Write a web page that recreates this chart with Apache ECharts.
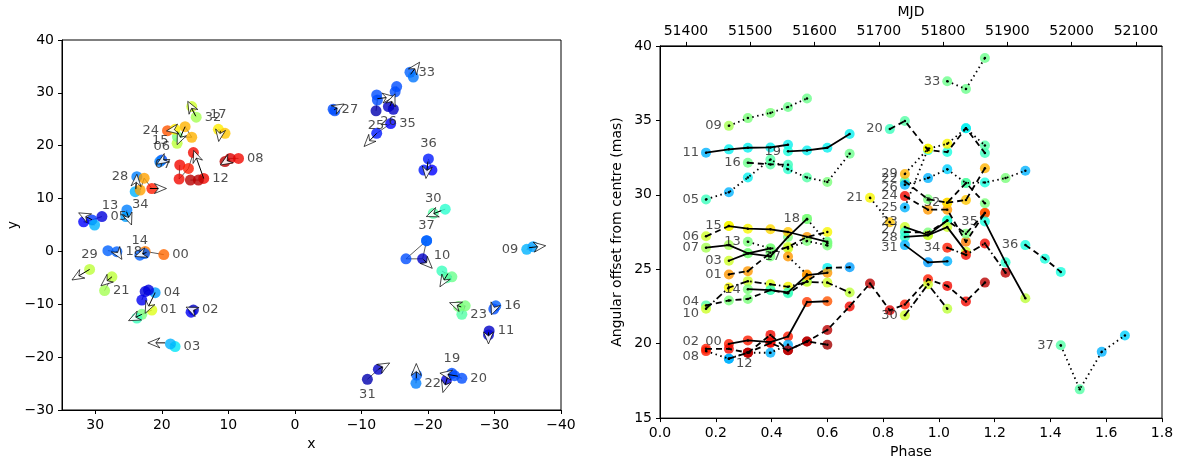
<!DOCTYPE html>
<html>
<head>
<meta charset="utf-8">
<script src="https://cdn.jsdelivr.net/npm/echarts@6/dist/echarts.min.js"></script>
<style>
  html, body { margin: 0; padding: 0; background: #fff; }
  #chart { width: 1187px; height: 464px; }
</style>
</head>
<body>
<div id="chart"></div>
<script>
// ---------- left panel: component positions [x, y, colour value 0..1] ----------
const compNames = ['00','01','02','03','04','05','06','07','08','09','10','11','12','13','14','15','16','17','18',
  '19','20','21','22','23','24','25','26','27','28','29','30','31','32','33','34','35','36','37'];
const compPoints = [
  [[19.7,-0.6,.8],[22.5,0,.78]],
  [[21.5,-11.1,.62],[23.0,-11.9,.5],[23.75,-12.6,.42]],
  [[15.25,-11.1,.06],[15.6,-11.5,.1]],
  [[18.0,-18.0,.35],[18.7,-17.5,.3]],
  [[21.0,-7.8,.28],[22.0,-7.3,.08],[22.5,-7.6,.08],[23.0,-9.2,.1]],
  [[29.0,6.6,.08],[30.5,5.95,.18],[31.75,5.6,.12],[30.1,5.0,.3]],
  [[20.0,17.3,.2],[20.3,17.0,.25]],
  [[17.3,16.35,.9],[17.4,13.7,.9],[16.0,15.7,.88],[15.25,18.7,.9]],
  [[8.47,17.6,.9],[9.72,17.6,.92],[10.5,17.0,.95]],
  [[-34.85,0.4,.3],[-35.8,0.9,.28]],
  [[-22.1,-3.7,.42],[-23.6,-4.8,.48],[-22.8,-5.0,.45]],
  [[-29.2,-15.05,.06],[-29.1,-15.8,.08]],
  [[13.7,13.8,.9],[14.5,13.5,.95],[15.7,13.5,.95]],
  [[25.25,7.85,.25],[25.4,6.6,.28]],
  [[23.3,-0.7,.22],[22.6,-0.4,.22]],
  [[17.7,20.45,.58],[17.65,21.7,.5],[15.5,21.6,.72],[16.5,23.6,.72]],
  [[-30.2,-10.3,.22],[-29.9,-10.9,.2]],
  [[11.5,23.1,.66],[10.5,22.35,.7]],
  [[26.75,-0.05,.22],[28.1,0.15,.22]],
  [[-23.6,-23.05,.2],[-22.8,-24.3,.08]],
  [[-25.1,-24.0,.2],[-24.0,-23.5,.2]],
  [[28.6,-7.4,.55],[27.5,-4.8,.58]],
  [[-18.2,-24.95,.25],[-18.3,-23.4,.22]],
  [[-25.1,-11.9,.45],[-25.6,-10.3,.5],[-24.6,-10.4,.5]],
  [[19.14,22.85,.82],[18.0,23.1,.66]],
  [[-12.2,26.6,.04],[-12.4,28.65,.2],[-12.3,29.6,.2]],
  [[-14.06,27.4,.06],[-14.8,26.9,.06],[-15.07,30.2,.2],[-15.3,31.2,.2]],
  [[-5.75,26.9,.2],[-6.0,26.6,.2]],
  [[23.75,14.15,.25],[24.0,11.3,.3]],
  [[30.85,-3.4,.58]],
  [[-20.8,7.2,.45],[-22.6,8.0,.4]],
  [[-10.9,-24.2,.04],[-12.55,-22.3,.06]],
  [[14.83,25.4,.55],[15.5,27.4,.6]],
  [[-17.3,33.9,.22],[-17.8,33.0,.24]],
  [[23.25,11.6,.74],[22.65,13.85,.74],[21.5,11.9,.88]],
  [[-14.4,24.2,.12],[-12.3,22.35,.15]],
  [[-20.07,17.5,.15],[-20.6,15.4,.12],[-19.4,15.4,.15]],
  [[-19.8,2.03,.22],[-16.7,-1.4,.2],[-19.2,-1.4,.06],[-19.8,2.03,.22]]
];
// arrow per component: [x0, y0, dx, dy]
const compArrows = [
  null, [23.0,-11.9,2.0,-1.2], [15.0,-11.3,1.35,0.76], [19.5,-17.3,2.6,0], [21.0,-7.8,1.5,-3.9],
  [30.5,6.0,2.0,1.3], [20.0,17.1,0.75,-0.6], null, [10.0,17.3,1.2,-0.95], [-35.2,0.7,-2.5,0.38],
  [-23.0,-4.2,1.2,-2.5], [-29.1,-15.3,0,-2.2], [13.7,13.8,1.5,5.3], [25.3,7.5,-0.75,-2.5], [22.3,-0.2,1.74,-0.76],
  [16.5,23.6,1.2,-3.4], [-30.0,-10.5,0.45,-1.5], [11.2,22.8,0.25,-2.0], [26.75,0,-0.75,-1.5], [-23.0,-23.5,0.75,-3.2],
  [-24.5,-23.6,2.7,0.57], [27.5,-4.8,1.65,-1.7], [-18.25,-24.0,0,2.8], [-25.0,-10.5,1.75,0.8], [18.3,23.0,1.0,-0.2],
  [-12.4,28.9,-2.55,0.38], [-14.3,27.5,-0.75,2.3], [-5.9,26.8,-1.5,1.1], [23.9,11.8,-0.15,2.8], [30.85,-3.4,2.65,-2.0],
  [-22.0,7.7,2.25,-1.1], [-12.55,-22.3,-1.7,1.2], [14.9,25.6,1.2,2.8], [-17.4,33.5,-1.35,2.3], [21.8,11.9,-2.5,0],
  [-12.3,22.35,1.9,-2.5], [-20.0,17.0,0.3,-3.2], [-19.3,-1.5,-1.35,-1.7]
];

// ---------- right panel: tracks [phase, offset (mas), colour value 0..1] ----------
const trackNames = ['00','01','02','03','04','05','06','07','08','09','10','11','12','13','14','15','16','17','18',
  '19','20','21','22','23','24','25','26','27','28','29','30','31','32','33','34','35','36','37'];
const trackStyles = ['solid','dashed','dashed','solid','dashed','dotted','dashed','solid','dotted','dotted','dashdot',
  'solid','dashed','dotted','solid','solid','dashed','dotted','dotted','solid','dashed','dotted','dashed','solid',
  'dashed','dotted','dotted','dashed','solid','dotted','dashdot','solid','dashed','dotted','dashdot','solid','dashed','dotted'];
const trackPoints = [
  [[.247,19.98,.88],[.315,20.22,.88],[.396,20.1,.9],[.459,20.48,.88],[.527,22.79,.85],[.60,22.85,.82]],
  [[.247,24.65,.75],[.315,24.87,.75],[.396,26.1,.5],[.459,26.5,.6],[.527,27.17,.75],[.60,27.5,.65]],
  [[.165,19.65,.88],[.247,19.65,.9],[.315,19.39,.95],[.396,20.04,.9],[.459,19.56,.95],[.527,20.15,.95],[.60,19.93,.97]],
  [[.247,25.57,.6],[.315,26.07,.5],[.396,25.86,.5],[.459,27.17,.5],[.527,28.38,.5]],
  [[.165,22.57,.45],[.247,22.9,.5],[.315,23.0,.5],[.396,23.6,.45],[.459,23.38,.42],[.527,24.2,.36],[.60,25.09,.36],[.68,25.13,.28]],
  [[.165,29.69,.42],[.247,30.17,.3],[.315,31.16,.36],[.396,32.37,.45],[.459,31.71,.4],[.527,31.16,.45],[.60,30.86,.5],[.68,32.76,.48]],
  [[.165,27.21,.6],[.247,27.9,.65]],
  [[.165,26.45,.55],[.247,26.62,.55],[.315,26.07,.5],[.396,26.4,.5]],
  [[.165,19.5,.88],[.247,18.99,.3],[.315,19.39,.95],[.396,19.39,.3],[.459,19.93,.3]],
  [[.247,34.63,.55],[.315,35.15,.5],[.396,35.5,.5],[.459,35.9,.48],[.527,36.47,.48]],
  [[.165,22.35,.6],[.247,23.77,.65],[.315,24.2,.6],[.396,23.99,.62],[.459,23.82,.65],[.527,24.15,.62],[.60,24.1,.6],[.68,23.44,.58]],
  [[.165,32.83,.3],[.247,33.05,.36],[.315,33.16,.36],[.396,33.18,.36],[.459,33.36,.36]],
  [[.247,18.99,.3],[.315,19.39,.95],[.396,20.59,.9],[.459,19.56,.95],[.527,20.15,.95],[.60,20.92,.95],[.68,22.5,.9],
   [.753,24.04,.95],[.824,22.24,.92],[.878,22.63,.88],[.961,24.32,.88],[1.03,23.88,.9],[1.097,22.83,.9],[1.165,24.1,.95]],
  [[.315,26.84,.5],[.396,26.4,.5],[.459,26.4,.6],[.527,26.89,.5],[.60,26.6,.5]],
  [[.315,23.66,.5],[.396,23.6,.42],[.459,23.45,.42],[.527,24.6,.75],[.60,24.76,.75]],
  [[.247,27.9,.65],[.315,27.72,.65],[.396,27.68,.68],[.459,27.5,.7],[.60,26.84,.48]],
  [[.315,32.15,.48],[.396,32.04,.45],[.459,32.02,.42]],
  [[.459,25.85,.75],[.527,24.65,.75]],
  [[.527,28.38,.5],[.60,26.75,.5]],
  [[.459,32.92,.38],[.527,32.98,.36],[.60,33.16,.36],[.68,34.08,.36]],
  [[.824,34.41,.42],[.878,34.96,.45],[.961,33.0,.38],[1.03,32.87,.38],[1.097,34.47,.36],[1.165,32.81,.42]],
  [[.753,29.8,.65],[.824,28.16,.7]],
  [[.878,30.9,.45],[.961,29.7,.5],[1.03,29.47,.68],[1.097,30.79,.45],[1.165,29.43,.5]],
  [[.878,27.83,.6],[.961,27.3,.58],[1.03,28.27,.38]],
  [[.878,29.91,.9],[.961,29.0,.75],[1.03,29.0,.75],[1.097,26.84,.78],[1.165,28.77,.82]],
  [[.878,29.15,.3],[.961,33.09,.65]],
  [[.878,30.68,.3],[.961,31.12,.3],[1.03,31.71,.33],[1.097,30.79,.45],[1.165,30.83,.38],[1.239,31.12,.5],[1.31,31.62,.3]],
  [[.878,27.5,.4],[.961,27.46,.5],[1.03,28.27,.4],[1.097,27.39,.5],[1.165,28.77,.82]],
  [[.878,27.17,.4],[.961,27.28,.6],[1.03,27.83,.6],[1.097,26.18,.6]],
  [[.878,31.4,.72],[.961,33.09,.65],[1.03,33.42,.65],[1.097,34.47,.36],[1.165,33.31,.45]],
  [[.878,21.9,.6],[.961,23.99,.6],[1.03,22.35,.58]],
  [[.878,26.62,.3],[.961,25.46,.28],[1.03,25.53,.3]],
  [[1.03,29.47,.68],[1.097,29.65,.7],[1.165,31.78,.72]],
  [[1.03,37.63,.48],[1.097,37.1,.48],[1.165,39.19,.48]],
  [[1.03,26.45,.88],[1.097,25.96,.9],[1.165,26.73,.9],[1.239,24.76,.95]],
  [[1.165,28.2,.38],[1.239,25.46,.4],[1.31,23.05,.58]],
  [[1.31,26.62,.38],[1.38,25.7,.38],[1.437,24.82,.38]],
  [[1.437,19.89,.45],[1.505,16.93,.45],[1.584,19.45,.3],[1.667,20.55,.33]]
];
// MJD at phase 0 and phase 1.8 (top axis)
const mjdRange = [51359.6, 52140.6];

// label placement
const leftLabelPos = {'00':'right','01':'right','02':'right','03':'right','04':'right','05':'right','06':'top','07':'left',
  '08':'right','09':'left','10':'top','11':'right','12':'right','13':'left','14':'top','15':'left','16':'right','17':'top',
  '18':'right','19':'top','20':'right','21':'right','22':'right','23':'right','24':'left','25':'bottom','26':'bottom',
  '27':'right','28':'left','29':'top','30':'top','31':'bottom','32':'right','33':'right','34':'bottom','35':'right',
  '36':'top','37':'top'};
const leftLabelShift = {'15':[0,-3],'06':[0,2],'13':[0,-4]};
const rightLabelPos = {'12':'right'};
const rightLabelShift = {'02':[0,-7],'08':[0,6],'12':[0,5],'00':[0,-2],'04':[0,-4],'10':[0,5],
  '22':[0,-3],'26':[0,3],'23':[0,-5],'27':[0,-2],'28':[0,1],'31':[0,3]};

// matplotlib "jet"
function interp(stops, v) {
  for (let i = 1; i < stops.length; i++) {
    if (v <= stops[i][0]) {
      const [x0, y0] = stops[i - 1], [x1, y1] = stops[i];
      return y0 + (y1 - y0) * (v - x0) / (x1 - x0);
    }
  }
  return stops[stops.length - 1][1];
}
function jet(v) {
  const r = interp([[0,0],[0.35,0],[0.66,1],[0.89,1],[1,0.5]], v);
  const g = interp([[0,0],[0.125,0],[0.375,1],[0.64,1],[0.91,0],[1,0]], v);
  const b = interp([[0,0.5],[0.11,1],[0.34,1],[0.65,0],[1,0]], v);
  return 'rgb(' + [r, g, b].map(x => Math.round(x * 255)).join(',') + ')';
}

const FONT = 'DejaVu Sans';
const minus = v => String(v).replace('-', '\u2212');
const dashes = { solid: 'solid', dashed: [6, 4], dotted: [1.5, 3.5], dashdot: [7, 3, 1.5, 3] };

const tickLabel = { color: '#000', fontFamily: FONT, fontSize: 14 };
const axisLine = { show: true, onZero: false, lineStyle: { color: '#000', width: 1 } };
const axisTick = { show: true, length: 4, lineStyle: { color: '#000' } };
const nameStyle = { color: '#000', fontFamily: FONT, fontSize: 14 };

// ---- left panel series ----
const leftScatter = [];
compPoints.forEach((pts, i) => {
  pts.forEach((p, j) => {
    const item = { value: [p[0], p[1]], itemStyle: { color: jet(p[2]) } };
    if (j === 0) {
      const nm = compNames[i];
      item.label = { show: true, formatter: nm, position: leftLabelPos[nm] || 'right',
        offset: leftLabelShift[nm] || [0, 0],
        distance: 3, color: '#222', fontFamily: FONT, fontSize: 13 };
    }
    leftScatter.push(item);
  });
});
const leftLinks = compPoints.filter(p => p.length > 1).map(pts => ({ coords: pts.map(p => [p[0], p[1]]) }));
const arrowData = compArrows.filter(a => a).map(a => [a[0], a[1], a[0] + a[2], a[1] + a[3]]);

// quiver-like arrow: thin shaft + white notched head with black edge
function renderArrow(params, api) {
  const p0 = api.coord([api.value(0), api.value(1)]);
  const p1 = api.coord([api.value(2), api.value(3)]);
  const dx = p1[0] - p0[0], dy = p1[1] - p0[1];
  const L = Math.hypot(dx, dy) || 1;
  const ux = dx / L, uy = dy / L, nx = -uy, ny = ux;
  const hl = 12, hw = 5, notch = 4;
  const bx = p1[0] - ux * hl, by = p1[1] - uy * hl;
  const mx = p1[0] - ux * (hl - notch), my = p1[1] - uy * (hl - notch);
  return {
    type: 'group',
    children: [
      { type: 'line', shape: { x1: p0[0], y1: p0[1], x2: mx, y2: my }, style: { stroke: '#000', lineWidth: 1 } },
      { type: 'polygon', shape: { points: [p1, [bx + nx * hw, by + ny * hw], [mx, my], [bx - nx * hw, by - ny * hw]] },
        style: { fill: '#fff', stroke: '#000', lineWidth: 0.8, opacity: 0.9 } }
    ]
  };
}

// ---- right panel series ----
const rightScatter = [];
const rightLines = [];
trackPoints.forEach((pts, i) => {
  pts.forEach((p, j) => {
    const item = { value: [p[0], p[1]], itemStyle: { color: jet(p[2]) } };
    if (j === 0) {
      const nm = trackNames[i];
      item.label = { show: true, formatter: nm, position: rightLabelPos[nm] || 'left',
        offset: rightLabelShift[nm] || [0, 0],
        distance: 2, color: '#222', fontFamily: FONT, fontSize: 13 };
    }
    rightScatter.push(item);
  });
  rightLines.push({
    type: 'line', xAxisIndex: 1, yAxisIndex: 1, z: 4,
    data: pts.map(p => [p[0], p[1]]),
    symbol: 'circle', symbolSize: 2.5, showSymbol: true,
    itemStyle: { color: '#000' },
    lineStyle: { color: '#000', width: 1.8, type: dashes[trackStyles[i]] },
    silent: true, animation: false
  });
});

const chart = echarts.init(document.getElementById('chart'), null, { renderer: 'canvas' });
chart.setOption({
  animation: false,
  backgroundColor: '#fff',
  grid: [
    { left: 62, top: 40, width: 499, height: 370, show: true, borderColor: '#000', borderWidth: 1 },
    { left: 660, top: 40, width: 502, height: 380, show: true, borderColor: '#000', borderWidth: 1 }
  ],
  xAxis: [
    { type: 'value', gridIndex: 0, min: -40, max: 35, interval: 10, inverse: true,
      name: 'x', nameLocation: 'middle', nameGap: 26, nameTextStyle: nameStyle,
      axisLine, axisTick, splitLine: { show: false },
      axisLabel: { ...tickLabel, formatter: minus, showMaxLabel: false } },
    { type: 'value', gridIndex: 1, min: 0, max: 1.8, interval: 0.2,
      name: 'Phase', nameLocation: 'middle', nameGap: 24, nameTextStyle: nameStyle,
      axisLine, axisTick, splitLine: { show: false },
      axisLabel: { ...tickLabel, formatter: v => v.toFixed(1) } },
    { type: 'value', gridIndex: 1, position: 'top', min: mjdRange[0], max: mjdRange[1], splitNumber: 8,
      name: 'MJD', nameLocation: 'middle', nameGap: 24, nameTextStyle: nameStyle,
      axisLine, axisTick, splitLine: { show: false },
      axisLabel: { ...tickLabel, showMinLabel: false, showMaxLabel: false, formatter: v => String(Math.round(v)) } }
  ],
  yAxis: [
    { type: 'value', gridIndex: 0, min: -30, max: 40, interval: 10,
      name: 'y', nameLocation: 'middle', nameGap: 42, nameTextStyle: nameStyle,
      axisLine, axisTick, splitLine: { show: false },
      axisLabel: { ...tickLabel, formatter: minus } },
    { type: 'value', gridIndex: 1, min: 15, max: 40, interval: 5,
      name: 'Angular offset from centre (mas)', nameLocation: 'middle', nameGap: 36, nameTextStyle: nameStyle,
      axisLine, axisTick, splitLine: { show: false },
      axisLabel: { ...tickLabel } }
  ],
  series: [
    { type: 'lines', coordinateSystem: 'cartesian2d', xAxisIndex: 0, yAxisIndex: 0, polyline: true, z: 2,
      data: leftLinks, lineStyle: { color: '#000', width: 0.8, opacity: 0.8 }, silent: true },
    { type: 'scatter', xAxisIndex: 0, yAxisIndex: 0, symbolSize: 11, z: 3, data: leftScatter },
    { type: 'custom', coordinateSystem: 'cartesian2d', xAxisIndex: 0, yAxisIndex: 0, z: 5,
      data: arrowData, renderItem: renderArrow, silent: true },
    { type: 'scatter', xAxisIndex: 1, yAxisIndex: 1, symbolSize: 10, z: 3, data: rightScatter },
    ...rightLines
  ]
});
</script>
</body>
</html>
